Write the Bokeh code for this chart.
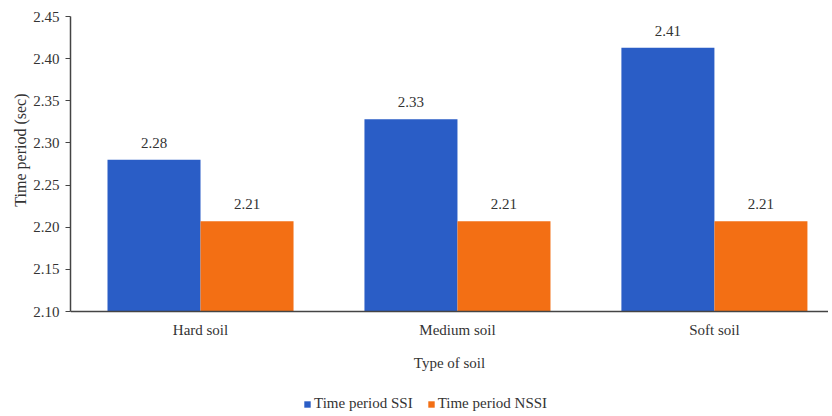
from bokeh.plotting import figure
from bokeh.models import ColumnDataSource, FixedTicker, Legend, LegendItem, LabelSet, LinearAxis, Title
from bokeh.core.properties import value
from bokeh.embed import file_html
from bokeh.resources import INLINE

categories = ["Hard soil", "Medium soil", "Soft soil"]
ssi = [2.28, 2.328, 2.413]
nssi = [2.207, 2.207, 2.207]
ssi_labels = ["2.28", "2.33", "2.41"]
nssi_labels = ["2.21", "2.21", "2.21"]
y_ticks = [2.10, 2.15, 2.20, 2.25, 2.30, 2.35, 2.40, 2.45]

FONT = "Liberation Serif"
BLUE = "#2A5DC6"
ORANGE = "#F36F14"
TXT = "#333333"

xs = list(range(len(categories)))
bw = 0.362
base = 2.10
y_top = 2.45
y_view_start = 1.9778  # extra room below the axis for the labels and legend

src_ssi = ColumnDataSource(dict(x=[x - bw / 2 for x in xs], top=ssi, lab=ssi_labels))
src_nssi = ColumnDataSource(dict(x=[x + bw / 2 for x in xs], top=nssi, lab=nssi_labels))

p = figure(width=828, height=414, output_backend="svg", toolbar_location=None,
           x_range=(-0.506, 2.444), y_range=(y_view_start, y_top), x_axis_location=None,
           min_border_left=70, min_border_right=0, min_border_top=16, min_border_bottom=0)
p.outline_line_color = None
p.xgrid.grid_line_color = None
p.ygrid.grid_line_color = None

r1 = p.vbar(x="x", top="top", bottom=base, width=bw, source=src_ssi, fill_color=BLUE, line_color=None)
r2 = p.vbar(x="x", top="top", bottom=base, width=bw, source=src_nssi, fill_color=ORANGE, line_color=None)

for s in (src_ssi, src_nssi):
    p.add_layout(LabelSet(x="x", y="top", text="lab", source=s, y_offset=12, text_align="center",
                          text_baseline="bottom", text_font=value(FONT), text_font_size="15px",
                          text_color=TXT))

xaxis = LinearAxis(fixed_location=base, ticker=FixedTicker(ticks=xs),
                   major_label_overrides={i: c for i, c in enumerate(categories)},
                   axis_label="Type of soil")
p.add_layout(xaxis, "below")

p.yaxis.ticker = FixedTicker(ticks=y_ticks)
p.yaxis.bounds = (base, y_top)
p.yaxis.major_label_overrides = {t: f"{t:.2f}" for t in y_ticks}

for ax in (xaxis, p.yaxis[0]):
    ax.axis_line_color = "#444444"
    ax.axis_line_width = 1.5
    ax.major_label_text_font = FONT
    ax.major_label_text_font_size = "15px"
    ax.major_label_text_color = TXT
    ax.axis_label_text_font = FONT
    ax.axis_label_text_font_size = "15px"
    ax.axis_label_text_font_style = "normal"
    ax.axis_label_text_color = TXT
    ax.minor_tick_line_color = None

p.yaxis.major_tick_out = 5
p.yaxis.major_tick_in = 0
p.yaxis.major_tick_line_color = "#444444"
p.yaxis.major_label_standoff = 6
xaxis.major_tick_line_color = None
xaxis.major_tick_out = 0
xaxis.major_tick_in = 0
xaxis.major_label_standoff = 10
xaxis.axis_label_standoff = 14

ytitle = Title(text="Time period (sec)", align="right", offset=77, standoff=4,
               text_font=FONT, text_font_size="16px", text_font_style="normal", text_color=TXT)
p.add_layout(ytitle, "left")

legend = Legend(items=[LegendItem(label="Time period SSI", renderers=[r1]),
                       LegendItem(label="Time period NSSI", renderers=[r2])],
                orientation="horizontal", location=(233, 2),
                glyph_width=8, glyph_height=8, label_standoff=3, spacing=14, label_height=16,
                padding=0, margin=0, border_line_color=None, background_fill_alpha=0,
                label_text_font=FONT, label_text_font_size="15px", label_text_color=TXT)
p.add_layout(legend, "center")

open("out.html", "w").write(file_html(p, INLINE))
